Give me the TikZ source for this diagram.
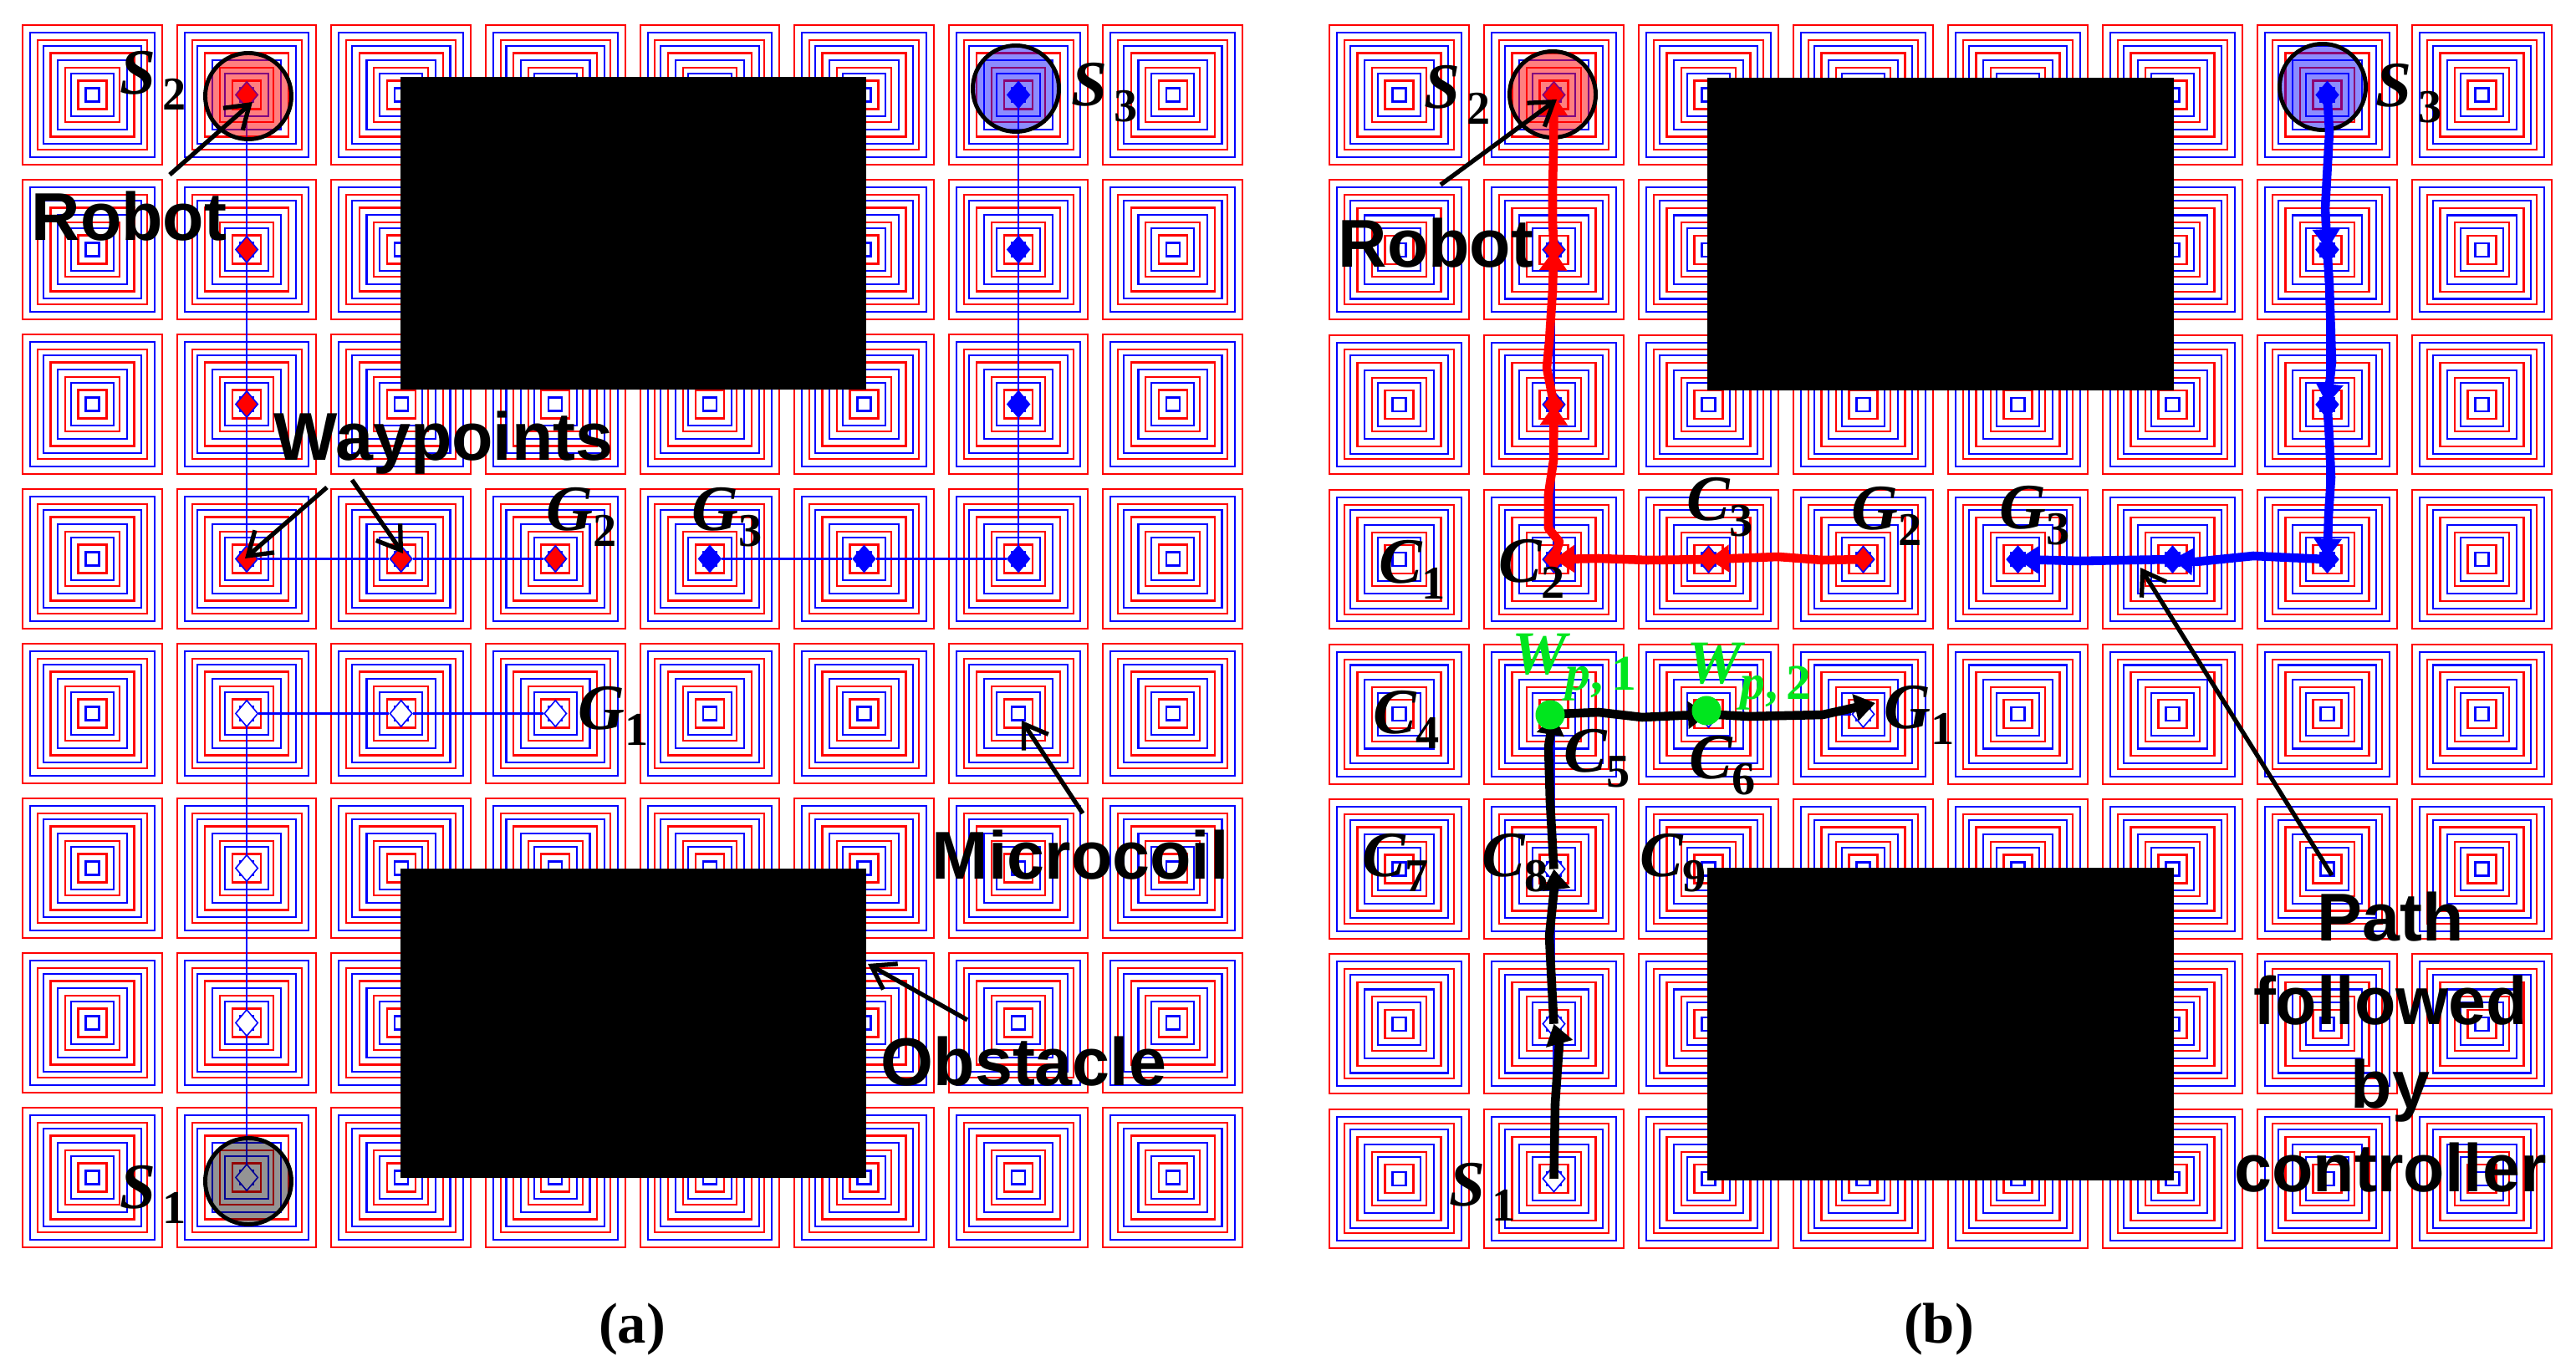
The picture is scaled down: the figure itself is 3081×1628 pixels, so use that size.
\documentclass[tikz,border=0pt]{standalone}
\usepackage{fontspec}
\setmainfont{Liberation Serif}
\setsansfont{Liberation Sans}
\usetikzlibrary{shapes.geometric,arrows.meta}
\definecolor{wpgreen}{RGB}{0,230,30}
\newcommand{\sublab}[2]{\makebox[\if G#1 15.8pt\else 14.4pt\fi][l]{\fontsize{22}{22}\selectfont\bfseries\itshape #1}\raisebox{-5.2pt}{\fontsize{16}{16}\selectfont\bfseries #2}}
\newcommand{\wplab}[1]{\makebox[18.2pt][l]{\fontsize{21}{21}\selectfont\bfseries\itshape W}\raisebox{-5.2pt}{\fontsize{17}{17}\selectfont\bfseries{\itshape p},\,#1}}
\begin{document}
\begin{tikzpicture}[
  x=0.01cm, y=-0.01cm,
  coilred/.style={draw=red, line width=0.6pt},
  coilblue/.style={draw=blue, line width=0.6pt},
  obstacle/.style={rectangle, fill=black, inner sep=0pt},
  wpt/.style={diamond, draw=blue, line width=0.45pt, inner sep=0pt, minimum width=0.27cm, minimum height=0.32cm},
  waypath/.style={draw=blue, line width=0.7pt},
  robot/.style={circle, draw=black, line width=1.4pt, inner sep=0pt, minimum size=1.03cm},
  track/.style={line width=3pt, line join=round, -{Stealth[length=7pt,width=9pt,inset=0pt]}},
  callout/.style={line width=1.5pt, -{Straight Barb[length=7.5pt,width=10pt]}},
  bigtxt/.style={font=\sffamily\bfseries\fontsize{23}{28.4}\selectfont, inner sep=0pt},
  sublabel/.style={anchor=base west, inner sep=0pt},
  caption/.style={anchor=base, inner sep=0pt, font=\bfseries\fontsize{19.5}{19.5}\selectfont}
]
\useasboundingbox (0,0) rectangle (3081,1628);

% coil arrays
\foreach \tag/\ox/\oy/\colstep/\rowstep in {a/110.5/113.5/184.6/185, b/1673.5/113.5/185/185.2} {
  \foreach \i in {0,...,7} {
    \foreach \j in {0,...,7} {
      \coordinate (\tag-\i-\j) at ({\ox+\colstep*\i},{\oy+\rowstep*\j});
      \foreach \h in {83.3,65.5,50,32.3,17}
        \draw[coilred] ([shift={(-\h,-\h)}]\tag-\i-\j) rectangle ([shift={(\h,\h)}]\tag-\i-\j);
      \foreach \h in {74.3,58.8,41.2,25.7,8}
        \draw[coilblue] ([shift={(-\h,-\h)}]\tag-\i-\j) rectangle ([shift={(\h,\h)}]\tag-\i-\j);
    }
  }
}

% waypoints and straight paths
\foreach \tag in {a,b} {
  \foreach \cell in {1-0,1-1,1-2,1-3,2-3,3-3}
    \node[wpt, fill=red] (w\tag-\cell) at (\tag-\cell) {};
  \foreach \cell in {4-3,5-3,6-3,6-2,6-1,6-0}
    \node[wpt, fill=blue] (w\tag-\cell) at (\tag-\cell) {};
  \foreach \cell in {1-7,1-6,1-5,1-4,2-4,3-4}
    \node[wpt, fill=white] (w\tag-\cell) at (\tag-\cell) {};
  \foreach \from/\to in {1-0/1-1,1-1/1-2,1-2/1-3,1-3/2-3,2-3/3-3,4-3/5-3,5-3/6-3,6-3/6-2,6-2/6-1,6-1/6-0,1-7/1-6,1-6/1-5,1-5/1-4,1-4/2-4,2-4/3-4}
    \draw[waypath] (w\tag-\from) -- (w\tag-\to);
}

% robots
\node[robot, fill=red, fill opacity=0.5] (rbta2) at (297,115) {};
\node[robot, fill=blue, fill opacity=0.45] (rbta3) at (1215,106) {};
\node[robot, fill=black, fill opacity=0.42] (rbta1) at (297,1413) {};
\node[robot, fill=red, fill opacity=0.5] (rbtb2) at (1857,113) {};
\node[robot, fill=blue, fill opacity=0.45] (rbtb3) at (2778,104) {};

% obstacles
\node[obstacle, minimum width=5.57cm, minimum height=3.74cm] (obsa1) at (757.5,279) {};
\node[obstacle, minimum width=5.57cm, minimum height=3.70cm] (obsa2) at (757.5,1224) {};
\node[obstacle, minimum width=5.58cm, minimum height=3.74cm] (obsb1) at (2321,280) {};
\node[obstacle, minimum width=5.58cm, minimum height=3.74cm] (obsb2) at (2321,1225) {};

% followed paths
\draw[track, red] (wb-3-3.center) -- (2180,670) -- (2127,666) -- (wb-2-3.center);
\draw[track, red] (wb-2-3.center) -- (1970,670) -- (1912,668) -- (wb-1-3.center);
\draw[track, red] (wb-1-3.center) -- (1865,648) -- (1852,632) -- (1852,591) -- (1858,551) -- (wb-1-2.center);
\draw[track, red] (wb-1-2.center) -- (1850,440) -- (1853,408) -- (1857,347) -- (wb-1-1.center);
\draw[track, red] (wb-1-1.center) -- (1857,265) -- (1857,224) -- (1858,183) -- (wb-1-0.center);
\draw[track, blue] (wb-6-0.center) -- (2786,158) -- (2781,250) -- (wb-6-1.center);
\draw[track, blue] (wb-6-1.center) -- (2786,341) -- (2789,433) -- (wb-6-2.center);
\draw[track, blue] (wb-6-2.center) -- (2786,525) -- (2788,571) -- (2785,617) -- (wb-6-3.center);
\draw[track, blue] (wb-6-3.center) -- (2695,665) -- (2626,672) -- (wb-5-3.center);
\draw[track, blue] (wb-5-3.center) -- (2488,671) -- (wb-4-3.center);
\draw[track] (wb-1-7.center) -- (1860,1320) -- (1865,1248) -- (wb-1-6.center);
\draw[track] (wb-1-6.center) -- (1855,1160) -- (1853,1120) -- (1860,1052) -- (wb-1-5.center);
\draw[track] (wb-1-5.center) -- (1854,960) -- (1852,893) -- (wb-1-4.center);
\draw[track] (wb-1-4.center) -- (1912,852) -- (1964,858) -- (wb-2-4.center);
\coordinate (g1tip) at (2243,841);
\draw[track] (wb-2-4.center) -- (2091,857) -- (2180,855) -- (g1tip);

\node[circle, fill=wpgreen, inner sep=0pt, minimum size=0.35cm] (wp1) at (1854,855) {};
\node[circle, fill=wpgreen, inner sep=0pt, minimum size=0.35cm] (wp2) at (2041,850) {};
\node[sublabel, text=wpgreen] (wp1lab) at (1808,807) {\wplab{1}};
\node[sublabel, text=wpgreen] (wp2lab) at (2017,818) {\wplab{2}};

% symbols
\foreach \nm/\px/\py/\ltr/\num in {
  as2/143/113/S/2, as3/1281/127/S/3, as1/143/1445/S/1, ag2/653/635/G/2, ag3/827/635/G/3, ag1/691/873/G/1,
  bs2/1703/130/S/2, bs3/2841/128/S/3, bs1/1733/1442/S/1, bg2/2214/634/G/2, bg3/2391/633/G/3, bg1/2253/872/G/1,
  bc1/1649/698/C/1, bc2/1792/697/C/2, bc3/2017/623/C/3, bc4/1642/877/C/4, bc5/1870/923/C/5, bc6/2020/932/C/6,
  bc7/1629/1048/C/7, bc8/1772/1048/C/8, bc9/1961/1048/C/9}
  \node[sublabel] (\nm) at (\px,\py) {\sublab{\ltr}{\num}};

% callouts
\node[bigtxt, anchor=base west] (robota) at (37,288) {Robot};
\node[bigtxt, anchor=base west] (wayp) at (327,551) {Waypoints};
\node[bigtxt, anchor=base west] (micro) at (1114,1051) {Microcoil};
\node[bigtxt, anchor=base west] (obst) at (1053,1298) {Obstacle};
\node[bigtxt, anchor=base west] (robotb) at (1600,320) {Robot};
\node[bigtxt, align=center, anchor=base] (pathtxt) at (2859,1425) {Path\\followed\\by\\controller};

\foreach \nm/\tx/\ty/\hx/\hy in {
  ra/203/209/302/122, wl/391/583/293/668, wr/421/574/482/662, mc/1295/973/1222/862,
  ob/1157/1220/1038/1153, rb/1723/221/1862/119, pa/2789/1047/2560/679} {
  \coordinate (\nm-tail) at (\tx,\ty);
  \coordinate (\nm-tip) at (\hx,\hy);
  \draw[callout] (\nm-tail) -- (\nm-tip);
}

\node[caption] (capa) at (756,1606) {(a)};
\node[caption] (capb) at (2319,1606) {(b)};
\end{tikzpicture}
\end{document}
